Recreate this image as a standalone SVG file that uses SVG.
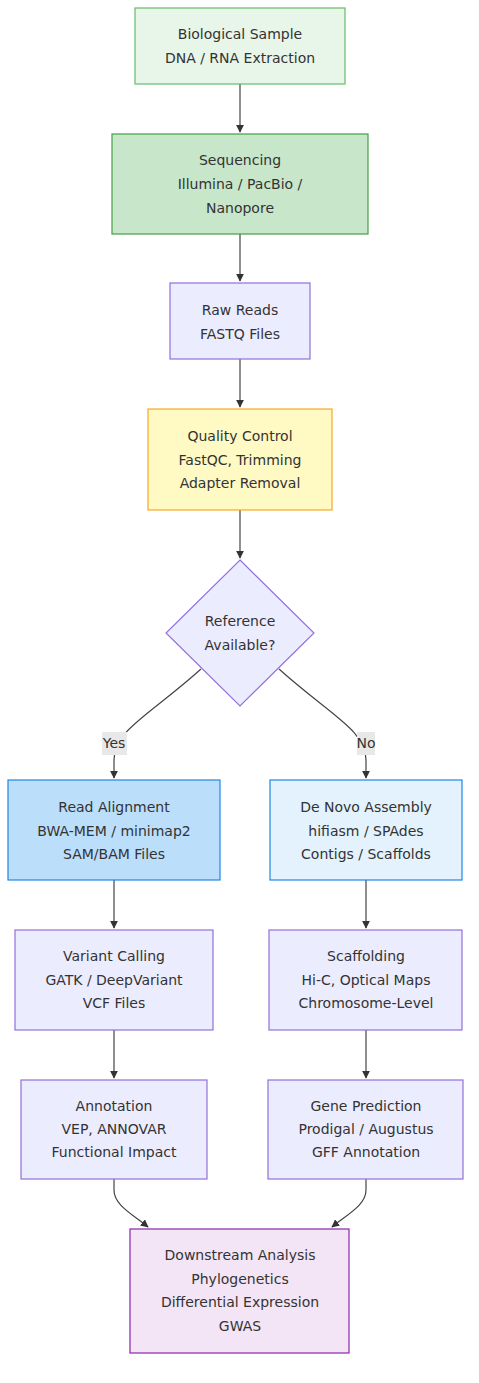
<svg xmlns="http://www.w3.org/2000/svg" width="479" height="1383" viewBox="0 0 479 1383">
<style>
text{font-family:"DejaVu Sans","Liberation Sans",sans-serif;font-size:14px;fill:#333;text-anchor:middle}
.n rect,.n polygon{stroke-width:1.2}
.purple{fill:#ececff;stroke:#9370db}
.e{fill:none;stroke:#444;stroke-width:1.2}
.lbl{fill:#e8e8e8}
</style>
<defs>
<marker id="ah" viewBox="0 0 10 10" refX="9" refY="5" markerWidth="8" markerHeight="8" orient="auto" markerUnits="userSpaceOnUse">
<path d="M0,0 L10,5 L0,10 z" fill="#333"/>
</marker>
</defs>
<rect width="479" height="1383" fill="#fff"/>
<g id="edges">
<path class="e" d="M240,84 L240,132" marker-end="url(#ah)"/>
<path class="e" d="M240,234 L240,281" marker-end="url(#ah)"/>
<path class="e" d="M240,359 L240,407" marker-end="url(#ah)"/>
<path class="e" d="M240,510 L240,558" marker-end="url(#ah)"/>
<path class="e" d="M201,669 C150,715 114,730 114,760 L114,778" marker-end="url(#ah)"/>
<path class="e" d="M279,669 C330,715 366,730 366,760 L366,778" marker-end="url(#ah)"/>
<path class="e" d="M114,880 L114,928" marker-end="url(#ah)"/>
<path class="e" d="M366,880 L366,928" marker-end="url(#ah)"/>
<path class="e" d="M114,1030 L114,1078" marker-end="url(#ah)"/>
<path class="e" d="M366,1030 L366,1078" marker-end="url(#ah)"/>
<path class="e" d="M114,1179 L114,1190 C114,1205 132,1214 148,1227" marker-end="url(#ah)"/>
<path class="e" d="M366,1179 L366,1190 C366,1205 348,1214 332,1227" marker-end="url(#ah)"/>
<rect class="lbl" x="102" y="732" width="25" height="23"/>
<text x="114" y="748">Yes</text>
<rect class="lbl" x="357" y="732" width="18" height="23"/>
<text x="366" y="748">No</text>
</g>
<g id="sample" class="n"><rect x="135" y="8" width="210" height="76" fill="#e8f5e9" stroke="#66bb6a"/>
<text x="240" y="39">Biological Sample</text><text x="240" y="63">DNA / RNA Extraction</text></g>
<g id="seq" class="n"><rect x="112" y="134" width="256" height="100" fill="#c8e6c9" stroke="#43a047"/>
<text x="240" y="165">Sequencing</text><text x="240" y="189">Illumina / PacBio /</text><text x="240" y="213">Nanopore</text></g>
<g id="raw" class="n"><rect class="purple" x="170" y="283" width="140" height="76"/>
<text x="240" y="315">Raw Reads</text><text x="240" y="339">FASTQ Files</text></g>
<g id="qc" class="n"><rect x="148" y="409" width="184" height="101" fill="#fff9c4" stroke="#f9a825"/>
<text x="240" y="441">Quality Control</text><text x="240" y="465">FastQC, Trimming</text><text x="240" y="488">Adapter Removal</text></g>
<g id="ref" class="n"><polygon class="purple" points="240,560 314,633 240,706 166,633"/>
<text x="240" y="626">Reference</text><text x="240" y="650">Available?</text></g>
<g id="align" class="n"><rect x="8" y="780" width="212" height="100" fill="#bbdefb" stroke="#1e88e5"/>
<text x="114" y="812">Read Alignment</text><text x="114" y="836">BWA-MEM / minimap2</text><text x="114" y="859">SAM/BAM Files</text></g>
<g id="denovo" class="n"><rect x="270" y="780" width="192" height="100" fill="#e3f2fd" stroke="#1e88e5"/>
<text x="366" y="812">De Novo Assembly</text><text x="366" y="836">hifiasm / SPAdes</text><text x="366" y="859">Contigs / Scaffolds</text></g>
<g id="variant" class="n"><rect class="purple" x="15" y="930" width="198" height="100"/>
<text x="114" y="961">Variant Calling</text><text x="114" y="985">GATK / DeepVariant</text><text x="114" y="1008">VCF Files</text></g>
<g id="scaff" class="n"><rect class="purple" x="269" y="930" width="193" height="100"/>
<text x="366" y="961">Scaffolding</text><text x="366" y="985">Hi-C, Optical Maps</text><text x="366" y="1008">Chromosome-Level</text></g>
<g id="annot" class="n"><rect class="purple" x="21" y="1080" width="186" height="99"/>
<text x="114" y="1111">Annotation</text><text x="114" y="1134">VEP, ANNOVAR</text><text x="114" y="1157">Functional Impact</text></g>
<g id="gene" class="n"><rect class="purple" x="268" y="1080" width="195" height="99"/>
<text x="366" y="1111">Gene Prediction</text><text x="366" y="1134">Prodigal / Augustus</text><text x="366" y="1157">GFF Annotation</text></g>
<g id="down" class="n"><rect x="130" y="1229" width="219" height="124" fill="#f3e5f5" stroke="#8e24aa"/>
<text x="240" y="1260">Downstream Analysis</text><text x="240" y="1284">Phylogenetics</text><text x="240" y="1307">Differential Expression</text><text x="240" y="1331">GWAS</text></g>
</svg>
